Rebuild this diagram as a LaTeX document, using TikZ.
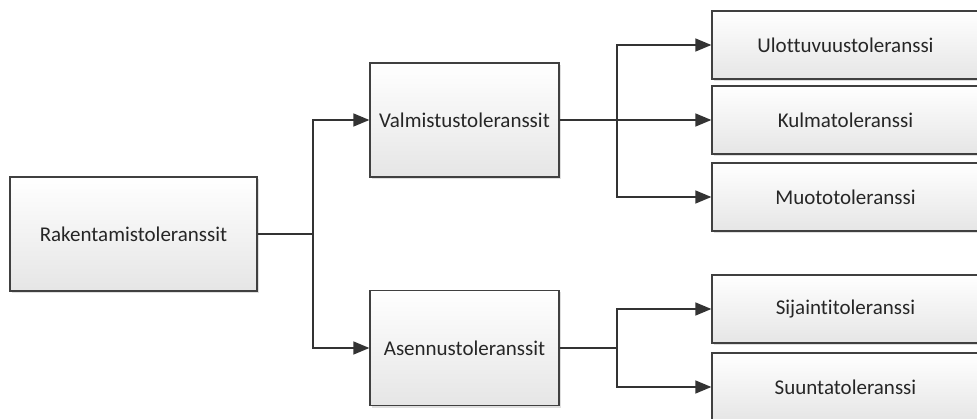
\documentclass[tikz,border=0pt]{standalone}
\usepackage{fontspec}
\setmainfont{Carlito}[Ligatures=NoCommon]
\usetikzlibrary{arrows.meta,shadows}

\tikzset{
  tolbox/.style={draw=black!75,line width=1.3pt,top color=white,bottom color=black!10,
    text=black!85,font=\fontsize{21}{25}\selectfont,
    drop shadow={shadow xshift=2pt,shadow yshift=-2pt,opacity=0.25}},
  conn/.style={draw=black!80,line width=1.4pt},
  arr/.style={conn,-{Triangle[length=16pt,width=13pt]}}
}

\begin{document}
\begin{tikzpicture}[x=1pt,y=-1pt]
  \clip (0,0) rectangle (977,419);
  \fill[white] (0,0) rectangle (977,419);
  % main level
  \node at (133.5,234) [tolbox,minimum width=247pt,minimum height=114pt] (rak) {Rakentamistoleranssit};
  \node at (464.5,120) [tolbox,minimum width=189pt,minimum height=114pt] (val) {Valmistustoleranssit};
  \node at (464.5,348) [tolbox,minimum width=189pt,minimum height=115pt] (ase) {Asennustoleranssit};
  % right column
  \node at (856,45) [tolbox,minimum width=288pt,minimum height=68pt] (ulo) {\hspace*{-21pt}Ulottuvuustoleranssi};
  \node at (856,120) [tolbox,minimum width=288pt,minimum height=68pt] (kul) {\hspace*{-21pt}Kulmatoleranssi};
  \node at (856,197) [tolbox,minimum width=288pt,minimum height=68pt] (muo) {\hspace*{-21pt}Muototoleranssi};
  \node at (856,309) [tolbox,minimum width=288pt,minimum height=68pt] (sij) {\hspace*{-21pt}Sijaintitoleranssi};
  \node at (856,387) [tolbox,minimum width=288pt,minimum height=68pt] (suu) {\hspace*{-21pt}Suuntatoleranssi};
  \coordinate (j1) at (313,234);
  \coordinate (j2) at (617,120);
  \coordinate (j3) at (617,348);
  \draw[conn] (rak) -- (j1);
  \draw[arr] (j1) |- (val);
  \draw[arr] (j1) |- (ase);
  \draw[arr] (val) -- (kul);
  \draw[arr] (j2) |- (ulo);
  \draw[arr] (j2) |- (muo);
  \draw[conn] (ase) -- (j3);
  \draw[arr] (j3) |- (sij);
  \draw[arr] (j3) |- (suu);
\end{tikzpicture}
\end{document}
